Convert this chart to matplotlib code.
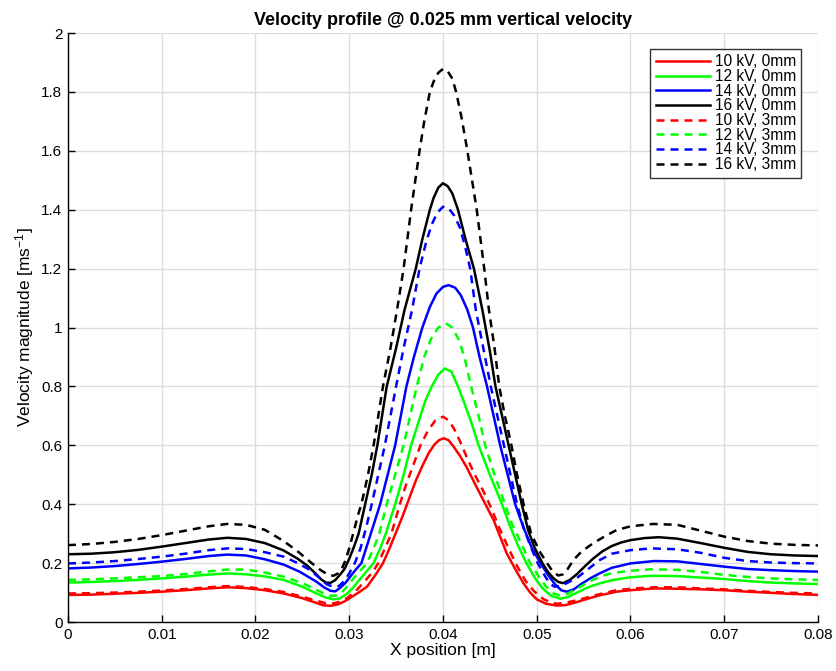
import matplotlib
matplotlib.use('Agg')
import matplotlib.pyplot as plt

plt.rcParams['font.family'] = ['Liberation Sans', 'DejaVu Sans']
plt.rcParams['mathtext.default'] = 'regular'

# 10 kV, electrode at 0 mm
x_10kv_0mm = [0, 0.0025, 0.005, 0.0075, 0.01, 0.0125, 0.015, 0.017, 0.019, 0.021, 0.023, 0.025,
              0.0262, 0.0272, 0.028, 0.0288, 0.0295, 0.030, 0.031, 0.0319, 0.0328, 0.0336, 0.0343,
              0.035, 0.0357, 0.0364, 0.0371, 0.0378, 0.0385, 0.0391, 0.0396, 0.0401, 0.0406, 0.0411,
              0.0418, 0.0425, 0.0434, 0.0443, 0.0454, 0.0461, 0.0468, 0.0477, 0.0486, 0.0493, 0.050,
              0.051, 0.0521, 0.053, 0.054, 0.055, 0.0565, 0.0585, 0.060, 0.0625, 0.065, 0.0675,
              0.070, 0.0725, 0.075, 0.0775, 0.080]
v_10kv_0mm = [0.092, 0.093, 0.096, 0.099, 0.103, 0.108, 0.114, 0.118, 0.115, 0.108, 0.097, 0.081,
              0.068, 0.057, 0.055, 0.06, 0.07, 0.08, 0.1, 0.12, 0.16, 0.2, 0.25,
              0.305, 0.36, 0.42, 0.48, 0.53, 0.575, 0.603, 0.618, 0.624, 0.617, 0.597,
              0.565, 0.527, 0.47, 0.414, 0.346, 0.29, 0.233, 0.18, 0.131, 0.1, 0.077,
              0.062, 0.056, 0.057, 0.065, 0.075, 0.089, 0.103, 0.108, 0.114, 0.113, 0.111,
              0.108, 0.103, 0.099, 0.095, 0.092]

# 12 kV, 0 mm
x_12kv_0mm = [0, 0.0025, 0.005, 0.0075, 0.01, 0.0125, 0.015, 0.017, 0.019, 0.021, 0.023, 0.025,
              0.0265, 0.0275, 0.0283, 0.029, 0.0298, 0.0305, 0.031, 0.0318, 0.0326, 0.0333, 0.0339,
              0.0349, 0.0358, 0.0366, 0.0374, 0.0381, 0.0388, 0.0395, 0.0402, 0.0409, 0.0416,
              0.0422, 0.043, 0.0438, 0.045, 0.0463, 0.0471, 0.048, 0.0489, 0.0498, 0.0506, 0.0515,
              0.0525, 0.0533, 0.0545, 0.0555, 0.0567, 0.058, 0.060, 0.0622, 0.065, 0.0675, 0.070,
              0.0725, 0.075, 0.0775, 0.080]
v_12kv_0mm = [0.134, 0.136, 0.139, 0.143, 0.148, 0.154, 0.161, 0.165, 0.162, 0.155, 0.143, 0.12,
              0.097, 0.083, 0.077, 0.08, 0.097, 0.12, 0.14, 0.17, 0.2, 0.25, 0.3,
              0.4, 0.5, 0.6, 0.68, 0.75, 0.8, 0.84, 0.861, 0.85, 0.8,
              0.75, 0.68, 0.6, 0.5, 0.4, 0.33, 0.26, 0.2, 0.15, 0.115, 0.09,
              0.079, 0.085, 0.103, 0.118, 0.131, 0.142, 0.152, 0.157, 0.156, 0.151, 0.146,
              0.139, 0.134, 0.131, 0.129]

# 14 kV, 0 mm
x_14kv_0mm = [0, 0.0025, 0.005, 0.0075, 0.01, 0.0125, 0.015, 0.017, 0.019, 0.021, 0.023, 0.0247,
              0.0265, 0.0273, 0.028, 0.0285, 0.029, 0.0296, 0.0301, 0.0307, 0.0313, 0.0318, 0.0323,
              0.0333, 0.0341, 0.0349, 0.0355, 0.0361, 0.0369, 0.0378, 0.0386, 0.0393, 0.040, 0.0406,
              0.0413, 0.0419, 0.0426, 0.0432, 0.0439, 0.0447, 0.0454, 0.0461, 0.0469, 0.0477,
              0.0486, 0.0495, 0.0504, 0.0512, 0.0519, 0.0526, 0.0532, 0.0539, 0.0548, 0.0558,
              0.0567, 0.058, 0.060, 0.0625, 0.065, 0.0675, 0.070, 0.0725, 0.075, 0.0775, 0.080]
v_14kv_0mm = [0.182, 0.185, 0.19, 0.197, 0.205, 0.214, 0.224, 0.229, 0.226, 0.213, 0.195, 0.171,
              0.137, 0.118, 0.106, 0.104, 0.115, 0.133, 0.154, 0.178, 0.2, 0.25, 0.3,
              0.4, 0.5, 0.6, 0.7, 0.8, 0.9, 1.0, 1.07, 1.115, 1.138, 1.144,
              1.135, 1.11, 1.06, 1.0, 0.9, 0.8, 0.7, 0.6, 0.5, 0.4,
              0.32, 0.25, 0.2, 0.16, 0.13, 0.108, 0.103, 0.11, 0.13, 0.15,
              0.165, 0.184, 0.199, 0.207, 0.206, 0.197, 0.188, 0.18, 0.176, 0.173, 0.171]

# 16 kV, 0 mm
x_16kv_0mm = [0, 0.0025, 0.005, 0.0075, 0.01, 0.0125, 0.015, 0.017, 0.019, 0.021, 0.023, 0.0245,
              0.0255, 0.0265, 0.027, 0.0275, 0.028, 0.0285, 0.029, 0.0295, 0.030, 0.0305, 0.031,
              0.0317, 0.0324, 0.033, 0.0335, 0.034, 0.035, 0.0359, 0.0365, 0.0371, 0.0378, 0.0386,
              0.039, 0.0395, 0.040, 0.0405, 0.041, 0.0416, 0.0424, 0.0433, 0.0442, 0.045, 0.0456,
              0.0463, 0.047, 0.0477, 0.0484, 0.0491, 0.0498, 0.0506, 0.0512, 0.0518, 0.0523,
              0.0528, 0.0535, 0.0543, 0.055, 0.056, 0.057, 0.058, 0.059, 0.060, 0.0615, 0.063,
              0.065, 0.0675, 0.070, 0.0725, 0.075, 0.0775, 0.080]
v_16kv_0mm = [0.230, 0.232, 0.237, 0.245, 0.256, 0.268, 0.280, 0.286, 0.282, 0.268, 0.243, 0.215,
              0.192, 0.162, 0.145, 0.134, 0.133, 0.142, 0.160, 0.18, 0.215, 0.255, 0.30,
              0.4, 0.5, 0.6, 0.7, 0.8, 0.93, 1.06, 1.13, 1.2, 1.3, 1.4,
              1.44, 1.475, 1.49, 1.48, 1.455, 1.4, 1.3, 1.2, 1.06, 0.92, 0.8,
              0.7, 0.6, 0.5, 0.4, 0.31, 0.25, 0.2, 0.17, 0.148, 0.136,
              0.132, 0.142, 0.163, 0.185, 0.215, 0.24, 0.258, 0.27, 0.278, 0.285, 0.288,
              0.283, 0.268, 0.252, 0.238, 0.23, 0.226, 0.224]

# 10 kV, 3 mm
x_10kv_3mm = [0, 0.0025, 0.005, 0.0075, 0.01, 0.0125, 0.015, 0.017, 0.019, 0.021, 0.023, 0.025,
              0.0265, 0.0275, 0.0283, 0.029, 0.0298, 0.0307, 0.0317, 0.0325, 0.0331, 0.0338, 0.0345,
              0.0354, 0.0361, 0.0368, 0.0376, 0.0384, 0.0392, 0.040, 0.0406, 0.0412, 0.0418,
              0.0426, 0.0434, 0.0443, 0.0451, 0.046, 0.047, 0.0479, 0.0488, 0.0497, 0.0507, 0.0515,
              0.0522, 0.053, 0.054, 0.055, 0.0565, 0.0585, 0.060, 0.0625, 0.065, 0.0675, 0.070,
              0.0725, 0.075, 0.0775, 0.080]
v_10kv_3mm = [0.097, 0.098, 0.1, 0.103, 0.107, 0.112, 0.118, 0.122, 0.119, 0.112, 0.102, 0.086,
              0.072, 0.064, 0.063, 0.069, 0.082, 0.105, 0.14, 0.17, 0.2, 0.25, 0.3,
              0.4, 0.47, 0.53, 0.6, 0.65, 0.685, 0.697, 0.685, 0.655, 0.615,
              0.555, 0.5, 0.445, 0.39, 0.32, 0.25, 0.19, 0.14, 0.105, 0.078, 0.066,
              0.062, 0.065, 0.072, 0.08, 0.093, 0.108, 0.113, 0.118, 0.118, 0.114, 0.111,
              0.106, 0.102, 0.099, 0.097]

# 12 kV, 3 mm
x_12kv_3mm = [0, 0.0025, 0.005, 0.0075, 0.01, 0.0125, 0.015, 0.017, 0.019, 0.021, 0.023, 0.025,
              0.0265, 0.0273, 0.028, 0.0286, 0.0292, 0.0299, 0.0305, 0.0312, 0.0319, 0.0326, 0.0332,
              0.034, 0.0349, 0.0358, 0.0365, 0.0372, 0.038, 0.0387, 0.0395, 0.0403, 0.041, 0.0417,
              0.0423, 0.043, 0.0438, 0.0445, 0.0455, 0.0466, 0.0474, 0.0483, 0.0493, 0.0502, 0.051,
              0.0518, 0.0525, 0.0532, 0.0543, 0.0555, 0.0567, 0.058, 0.060, 0.0622, 0.065, 0.0675,
              0.070, 0.0725, 0.075, 0.0775, 0.080]
v_12kv_3mm = [0.143, 0.145, 0.148, 0.152, 0.156, 0.163, 0.172, 0.178, 0.178, 0.168, 0.154, 0.132,
              0.109, 0.097, 0.089, 0.09, 0.1, 0.125, 0.15, 0.175, 0.2, 0.25, 0.3,
              0.4, 0.5, 0.6, 0.7, 0.8, 0.9, 0.96, 1.0, 1.014, 1.0, 0.957,
              0.898, 0.8, 0.7, 0.6, 0.5, 0.4, 0.33, 0.27, 0.2, 0.155, 0.12,
              0.097, 0.09, 0.095, 0.113, 0.135, 0.154, 0.166, 0.174, 0.179, 0.177, 0.17,
              0.16, 0.153, 0.148, 0.145, 0.143]

# 14 kV, 3 mm
x_14kv_3mm = [0, 0.0025, 0.005, 0.0075, 0.01, 0.0125, 0.015, 0.017, 0.019, 0.021, 0.023, 0.0245,
              0.0258, 0.027, 0.0276, 0.0283, 0.0289, 0.0295, 0.030, 0.0306, 0.0312, 0.0318, 0.0324,
              0.0331, 0.0338, 0.0344, 0.035, 0.0358, 0.0367, 0.0375, 0.0382, 0.0388, 0.0394, 0.040,
              0.0406, 0.0412, 0.0418, 0.0424, 0.0429, 0.0435, 0.0443, 0.0451, 0.0458, 0.0465,
              0.0472, 0.0479, 0.0486, 0.0493, 0.0501, 0.0509, 0.0514, 0.0519, 0.0525, 0.0532,
              0.0543, 0.0555, 0.0567, 0.058, 0.060, 0.0622, 0.065, 0.0675, 0.070, 0.0725, 0.075,
              0.0775, 0.080]
v_14kv_3mm = [0.199, 0.202, 0.207, 0.214, 0.222, 0.232, 0.244, 0.25, 0.248, 0.237, 0.222, 0.2,
              0.177, 0.145, 0.128, 0.12, 0.122, 0.14, 0.165, 0.2, 0.25, 0.32, 0.4,
              0.5, 0.6, 0.7, 0.8, 0.93, 1.06, 1.2, 1.29, 1.35, 1.39, 1.41,
              1.405, 1.38, 1.34, 1.27, 1.2, 1.06, 0.93, 0.8, 0.7, 0.6,
              0.5, 0.4, 0.32, 0.26, 0.2, 0.155, 0.13, 0.12, 0.122, 0.132,
              0.15, 0.18, 0.21, 0.232, 0.244, 0.25, 0.247, 0.235, 0.218, 0.207, 0.202,
              0.2, 0.199]

# 16 kV, 3 mm
x_16kv_3mm = [0, 0.0025, 0.005, 0.0075, 0.01, 0.0125, 0.015, 0.017, 0.019, 0.021, 0.023, 0.0245,
              0.026, 0.027, 0.0278, 0.0283, 0.0288, 0.0292, 0.0296, 0.030, 0.0305, 0.031, 0.0313,
              0.032, 0.0326, 0.0331, 0.0336, 0.0344, 0.0351, 0.0358, 0.0366, 0.0375, 0.038, 0.0386,
              0.039, 0.0395, 0.040, 0.0405, 0.041, 0.0414, 0.042, 0.0426, 0.0431, 0.0436, 0.044,
              0.0444, 0.0449, 0.0455, 0.046, 0.0466, 0.0473, 0.0479, 0.0486, 0.0494, 0.0503,
              0.0511, 0.0517, 0.0523, 0.0528, 0.0533, 0.0539, 0.0548, 0.056, 0.0572, 0.0585,
              0.060, 0.0624, 0.065, 0.0675, 0.070, 0.0725, 0.075, 0.0775, 0.080]
v_16kv_3mm = [0.261, 0.265, 0.272, 0.282, 0.295, 0.31, 0.325, 0.333, 0.330, 0.313, 0.275, 0.24,
              0.2, 0.175, 0.16, 0.157, 0.165, 0.18, 0.21, 0.25, 0.31, 0.37, 0.4,
              0.5, 0.6, 0.7, 0.8, 0.93, 1.06, 1.2, 1.4, 1.6, 1.7, 1.8,
              1.835, 1.865, 1.878, 1.87, 1.845, 1.8, 1.71, 1.6, 1.5, 1.4, 1.3,
              1.2, 1.06, 0.93, 0.8, 0.7, 0.6, 0.5, 0.4, 0.3, 0.24,
              0.2, 0.172, 0.158, 0.162, 0.18, 0.21, 0.24, 0.267, 0.29, 0.312,
              0.325, 0.333, 0.33, 0.31, 0.29, 0.275, 0.266, 0.262, 0.26]

labels = ['10 kV, 0mm', '12 kV, 0mm', '14 kV, 0mm', '16 kV, 0mm',
          '10 kV, 3mm', '12 kV, 3mm', '14 kV, 3mm', '16 kV, 3mm']
x_ticks = [0, 0.01, 0.02, 0.03, 0.04, 0.05, 0.06, 0.07, 0.08]
y_ticks = [0, 0.2, 0.4, 0.6, 0.8, 1, 1.2, 1.4, 1.6, 1.8, 2]
x_tick_labels = ['0', '0.01', '0.02', '0.03', '0.04', '0.05', '0.06', '0.07', '0.08']
y_tick_labels = ['0', '0.2', '0.4', '0.6', '0.8', '1', '1.2', '1.4', '1.6', '1.8', '2']

dash = (0, (3.2, 2.4))
series = [
    (x_10kv_0mm, v_10kv_0mm, '#ff0000', '-'),
    (x_12kv_0mm, v_12kv_0mm, '#00ff00', '-'),
    (x_14kv_0mm, v_14kv_0mm, '#0000ff', '-'),
    (x_16kv_0mm, v_16kv_0mm, '#000000', '-'),
    (x_10kv_3mm, v_10kv_3mm, '#ff0000', dash),
    (x_12kv_3mm, v_12kv_3mm, '#00ff00', dash),
    (x_14kv_3mm, v_14kv_3mm, '#0000ff', dash),
    (x_16kv_3mm, v_16kv_3mm, '#000000', dash),
]

fig = plt.figure(figsize=(8.37, 6.71), dpi=100)
ax = fig.add_axes([0.0812, 0.073, 0.8961, 0.8778])

for (xs, vs, col, ls), lab in zip(series, labels):
    ax.plot(xs, vs, color=col, linestyle=ls, lw=1.8, label=lab,
            solid_joinstyle='round', dash_joinstyle='round')

ax.set_xlim(0, 0.08)
ax.set_ylim(0, 2)
ax.set_xticks(x_ticks)
ax.set_xticklabels(x_tick_labels)
ax.set_yticks(y_ticks)
ax.set_yticklabels(y_tick_labels)
ax.grid(True, color='#dddddd', lw=1.0)
ax.set_axisbelow(True)
ax.spines['top'].set_visible(False)
ax.spines['right'].set_visible(False)
ax.spines['left'].set_linewidth(1.0)
ax.spines['bottom'].set_linewidth(1.0)
ax.tick_params(direction='in', length=5, width=1.0, labelsize=11, pad=4)

ax.set_xlabel('X position [m]', fontsize=12.5, labelpad=1)
ax.set_ylabel('Velocity magnitude [ms$^{-1}$]', fontsize=12.5, labelpad=4)
ax.set_title('Velocity profile @ 0.025 mm vertical velocity', fontsize=13, fontweight='bold', pad=6)

leg = ax.legend(loc='upper right', bbox_to_anchor=(0.978, 0.973), fontsize=11.2, handlelength=3.5,
                labelspacing=-0.02, borderpad=0.35, handletextpad=0.3, fancybox=False, framealpha=1,
                borderaxespad=0)
leg.get_frame().set_edgecolor('#333333')
leg.get_frame().set_linewidth(1.0)

plt.savefig('out.png', dpi=100)
